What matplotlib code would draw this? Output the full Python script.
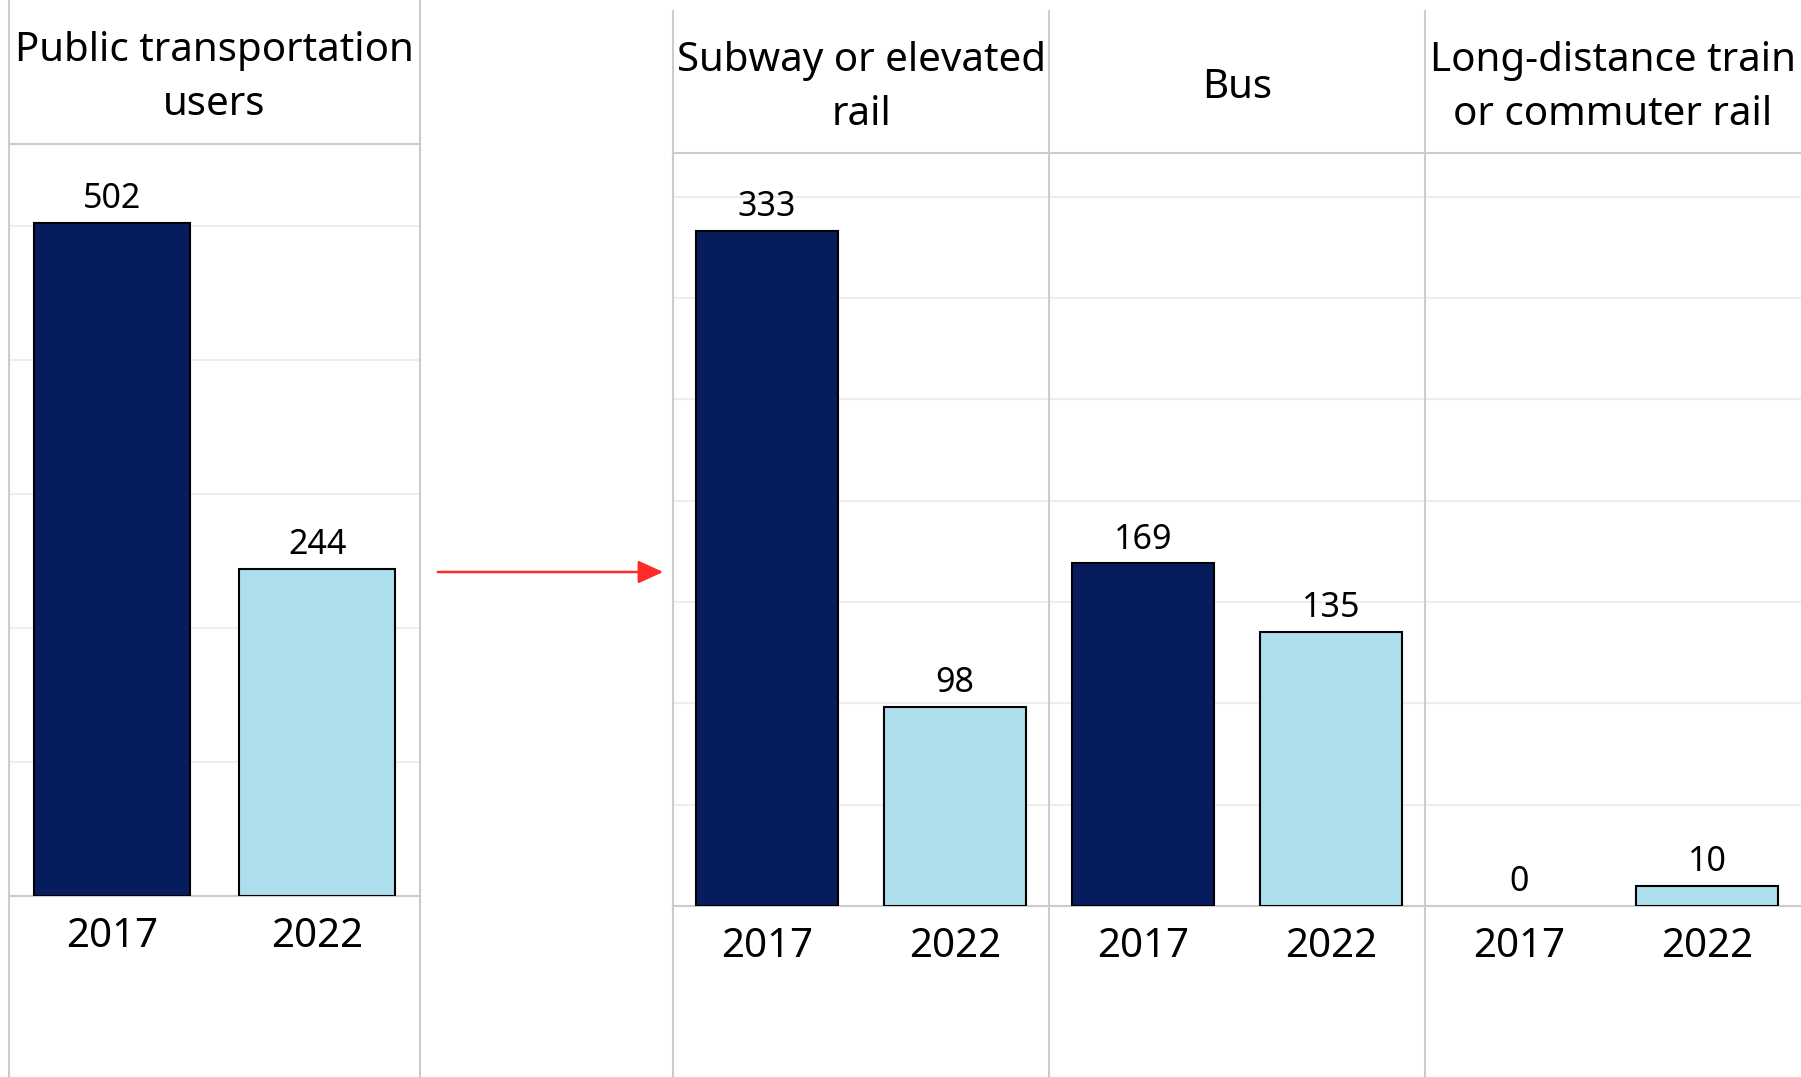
import numpy as np
import matplotlib
matplotlib.use('Agg')
import matplotlib.pyplot as plt
from matplotlib.lines import Line2D

plt.rcParams['font.family'] = ['Noto Sans', 'DejaVu Sans']

# data
years = ['2017', '2022']
total_header = 'Public transportation\nusers'
total_values = [502, 244]
modes = ['Subway or elevated\nrail', 'Bus', 'Long-distance train\nor commuter rail']
mode_values = [[333, 98], [169, 135], [0, 10]]

DARK = '#061c5c'
LIGHT = '#addeec'
BORDER = '#cccccc'
GRID = '#eeeeee'

W, H = 1801, 1077
fig = plt.figure(figsize=(W / 100, H / 100), dpi=100)


def px_rect(x0, y0, x1, y1):
    return [x0 / W, 1 - y1 / H, (x1 - x0) / W, (y1 - y0) / H]


def vline(x, y0, y1):
    fig.add_artist(Line2D([x / W, x / W], [1 - y0 / H, 1 - y1 / H],
                          color=BORDER, lw=1.5, transform=fig.transFigure))


def hline(x0, x1, y):
    fig.add_artist(Line2D([x0 / W, x1 / W], [1 - y / H, 1 - y / H],
                          color=BORDER, lw=1.5, transform=fig.transFigure))


def bar_panel(rect, values, ymax, step, label_pad):
    ax = fig.add_axes(rect)
    x = np.arange(len(values))
    edges = ['black' if v > 0 else 'none' for v in values]
    ax.bar(x, values, width=0.76, color=[DARK, LIGHT], edgecolor=edges, linewidth=1.5, zorder=3)
    for xi, v in zip(x, values):
        ax.annotate(str(v), (xi, v), xytext=(0, 5), textcoords='offset points',
                    ha='center', va='bottom', fontsize=24.5)
    ax.set_xlim(-0.5, len(values) - 0.5)
    ax.set_ylim(0, ymax)
    ax.set_yticks(np.arange(step, ymax, step))
    ax.yaxis.grid(True, color=GRID, lw=1.5, zorder=0)
    ax.tick_params(axis='y', left=False, labelleft=False)
    ax.set_xticks(x)
    ax.set_xticklabels(years, fontsize=29)
    ax.tick_params(axis='x', length=0, pad=label_pad)
    for s in ['top', 'left', 'right']:
        ax.spines[s].set_visible(False)
    ax.spines['bottom'].set_color(BORDER)
    ax.spines['bottom'].set_linewidth(1.5)
    ax.patch.set_alpha(0)
    return ax


# left panel: total users
bar_panel(px_rect(9, 144, 420, 896), total_values, 561, 100, 15)
fig.text(214.5 / W, 1 - 78 / H, total_header, ha='center', va='center',
         fontsize=29, linespacing=1.45)
vline(9, 0, H)
vline(420, 0, H)
hline(9, 420, 144)

# arrow between panels
fig.add_artist(matplotlib.patches.FancyArrowPatch(
    (435 / W, 1 - 572 / H), (666 / W, 1 - 572 / H), transform=fig.transFigure,
    arrowstyle='-|>,head_length=1.1,head_width=0.5', mutation_scale=14,
    color='#ff2a2a', lw=1.8))

# right panels: by mode
edges = [673, 1049, 1425, 1801]
for i, (mode, vals) in enumerate(zip(modes, mode_values)):
    x0, x1 = edges[i], edges[i + 1]
    bar_panel(px_rect(x0, 153, x1, 906), vals, 371.5, 50, 15)
    fig.text((x0 + x1) / 2 / W, 1 - 88 / H, mode, ha='center', va='center',
             fontsize=29, linespacing=1.45)
    vline(x0, 11, H)
hline(673, 1801, 153)

fig.savefig('out.png', dpi=100)
